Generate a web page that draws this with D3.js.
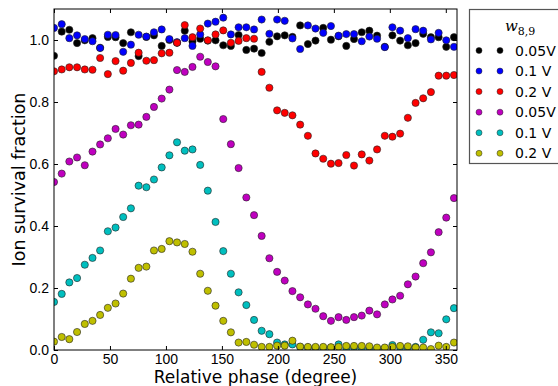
<!DOCTYPE html>
<html>
<head>
<meta charset="utf-8">
<script src="https://cdn.jsdelivr.net/npm/d3@7/dist/d3.min.js"></script>
<style>
  body { margin: 0; background: #fff; }
  svg { display: block; font-family: "DejaVu Sans", sans-serif; }
  .tick text { font-size: 14px; fill: #000; }
  .tick line { stroke: #000; }
</style>
</head>
<body>
<div id="chart"></div>
<script>
// relative phase (degree)
const phase = [0, 6.9, 13.7, 20.6, 27.5, 34.4, 41.2, 48.1, 55.0, 61.8, 68.7, 75.6, 82.5, 89.3,
  96.2, 103.1, 109.9, 116.8, 123.7, 130.6, 137.4, 144.3, 151.2, 158.0, 164.9, 171.8, 178.7,
  185.5, 192.4, 199.3, 206.1, 213.0, 219.9, 226.8, 233.6, 240.5, 247.4, 254.2, 261.1, 268.0,
  274.9, 281.7, 288.6, 295.5, 302.3, 309.2, 316.1, 323.0, 329.8, 336.7, 343.6, 350.4, 357.3];

const black005 = [0.949, 1.027, 1.033, 0.990, 0.999, 1.006, 0.975, 1.010, 1.009, 0.990, 1.025, 0.948,
  1.010, 1.015, 0.981, 1.000, 0.991, 1.030, 0.995, 1.004, 0.998, 0.999, 0.983, 0.981, 1.016, 0.968,
  0.972, 0.958, 0.994, 1.012, 1.015, 1.010, 1.047, 0.987, 0.998, 1.039, 1.001, 1.012, 0.981, 1.003,
  1.025, 1.030, 1.014, 0.978, 1.015, 0.998, 0.983, 0.990, 1.020, 1.009, 1.009, 0.978, 1.009];

const blue01 = [1.039, 1.051, 1.006, 1.015, 1.003, 0.996, 0.974, 1.017, 1.016, 0.962, 0.985, 1.017,
  1.011, 1.025, 1.034, 1.003, 0.993, 1.006, 0.981, 1.018, 1.053, 1.059, 1.072, 1.018, 1.041, 1.041,
  1.034, 1.066, 1.020, 1.066, 1.062, 1.005, 0.971, 1.047, 1.037, 1.023, 1.045, 1.014, 1.019, 1.019,
  0.996, 1.011, 1.004, 0.977, 1.041, 1.030, 1.006, 1.035, 1.030, 1.002, 1.023, 0.999, 0.978];

const red02 = [0.899, 0.905, 0.912, 0.912, 0.905, 0.904, 0.942, 0.890, 0.932, 0.901, 0.926, 0.959,
  0.933, 0.935, 0.957, 0.959, 0.991, 1.048, 1.009, 1.037, 0.999, 1.018, 1.031, 0.991, 0.997, 1.006,
  1.004, 0.897, 0.846, 0.773, 0.765, 0.757, 0.727, 0.691, 0.634, 0.617, 0.601, 0.603, 0.629, 0.595,
  0.631, 0.611, 0.647, 0.691, 0.688, 0.698, 0.749, 0.797, 0.812, 0.832, 0.885, 0.885, 0.887];

const magenta005 = [0.542, 0.569, 0.608, 0.621, 0.596, 0.640, 0.663, 0.683, 0.713, 0.695, 0.725, 0.727,
  0.752, 0.784, 0.811, 0.840, 0.903, 0.897, 0.913, 0.946, 0.929, 0.915, 0.745, 0.664, 0.587, 0.492,
  0.435, 0.368, 0.296, 0.252, 0.224, 0.190, 0.170, 0.147, 0.133, 0.109, 0.094, 0.106, 0.097, 0.106,
  0.111, 0.127, 0.115, 0.147, 0.163, 0.175, 0.212, 0.237, 0.280, 0.315, 0.380, 0.427, 0.490];

const cyan01 = [0.155, 0.181, 0.218, 0.232, 0.275, 0.297, 0.321, 0.383, 0.395, 0.429, 0.457, 0.530,
  0.525, 0.550, 0.589, 0.628, 0.670, 0.643, 0.647, 0.597, 0.514, 0.413, 0.319, 0.246, 0.186, 0.145,
  0.097, 0.062, 0.051, 0.024, 0.018, 0.018, 0.010, 0.008, 0.006, 0.005, 0.008, 0.018, 0.006, 0.008,
  0.005, 0.007, 0.005, 0.006, 0.016, 0.008, 0.006, 0.010, 0.033, 0.057, 0.054, 0.099, 0.135];

const yellow02 = [0.027, 0.042, 0.035, 0.058, 0.084, 0.094, 0.113, 0.136, 0.150, 0.182, 0.230, 0.265,
  0.269, 0.321, 0.326, 0.351, 0.347, 0.342, 0.317, 0.246, 0.191, 0.143, 0.094, 0.057, 0.024, 0.026,
  0.017, 0.010, 0.010, 0.014, 0.014, 0.030, 0.011, 0.010, 0.010, 0.010, 0.009, 0.010, 0.013, 0.013,
  0.013, 0.012, 0.008, 0.008, 0.010, 0.013, 0.012, 0.008, 0.008, 0.003, 0.014, 0.010, 0.024];

const seriesLabels = ['0.05V', '0.1 V', '0.2 V', '0.05V', '0.1 V', '0.2 V'];
const seriesValues = [black005, blue01, red02, magenta005, cyan01, yellow02];
const seriesColors = ['#000000', '#0000ff', '#ff0000', '#bf00bf', '#00bfbf', '#bfbf00'];

const xTicks = [0, 50, 100, 150, 200, 250, 300, 350];
const yTicks = [0.0, 0.2, 0.4, 0.6, 0.8, 1.0];

const width = 558, height = 386;
const margin = { top: 9, right: 101, bottom: 36, left: 54 };

const svg = d3.select('#chart').append('svg')
  .attr('width', width)
  .attr('height', height);

const x = d3.scaleLinear().domain([0, 360]).range([margin.left, width - margin.right]);
const y = d3.scaleLinear().domain([0, 1.1]).range([height - margin.bottom, margin.top]);

svg.append('clipPath').attr('id', 'plot-clip')
  .append('rect')
  .attr('x', x(0)).attr('y', y(1.1))
  .attr('width', x(360) - x(0)).attr('height', y(0) - y(1.1));

// points, drawn in series order so later ones sit on top
const plot = svg.append('g').attr('clip-path', 'url(#plot-clip)');
seriesValues.forEach((vals, s) => {
  plot.append('g').selectAll('circle')
    .data(vals)
    .enter().append('circle')
    .attr('cx', (d, i) => x(phase[i]))
    .attr('cy', d => y(d))
    .attr('r', 3.6)
    .attr('fill', seriesColors[s])
    .attr('stroke', '#222')
    .attr('stroke-width', 0.6);
});

// axes with inward ticks on all four sides
const fmtY = d3.format('.1f');
svg.append('g')
  .attr('transform', `translate(0,${y(0)})`)
  .call(d3.axisBottom(x).tickValues(xTicks).tickSize(-4).tickPadding(4).tickFormat(d3.format('d')))
  .call(g => g.select('.domain').remove());
svg.append('g')
  .attr('transform', `translate(0,${y(1.1)})`)
  .call(d3.axisTop(x).tickValues(xTicks).tickSize(-4).tickFormat(''))
  .call(g => g.select('.domain').remove());
svg.append('g')
  .attr('transform', `translate(${x(0)},0)`)
  .call(d3.axisLeft(y).tickValues(yTicks).tickSize(-4).tickPadding(5).tickFormat(fmtY))
  .call(g => g.select('.domain').remove());
svg.append('g')
  .attr('transform', `translate(${x(360)},0)`)
  .call(d3.axisRight(y).tickValues(yTicks).tickSize(-4).tickFormat(''))
  .call(g => g.select('.domain').remove());

svg.append('rect')
  .attr('x', x(0)).attr('y', y(1.1))
  .attr('width', x(360) - x(0)).attr('height', y(0) - y(1.1))
  .attr('fill', 'none')
  .attr('stroke', '#000')
  .attr('stroke-width', 1);

// axis labels
svg.append('text')
  .attr('x', (x(0) + x(360)) / 2)
  .attr('y', 383)
  .attr('text-anchor', 'middle')
  .style('font-size', '17px')
  .text('Relative phase (degree)');

svg.append('text')
  .attr('transform', `translate(25,${(y(0) + y(1.1)) / 2}) rotate(-90)`)
  .attr('text-anchor', 'middle')
  .style('font-size', '17.5px')
  .text('Ion survival fraction');

// legend
const legend = svg.append('g');
legend.append('rect')
  .attr('x', 469.5).attr('y', 9.5)
  .attr('width', 120).attr('height', 154)
  .attr('fill', '#fff')
  .attr('stroke', '#555')
  .attr('stroke-width', 1.2);

const title = legend.append('text')
  .attr('x', 505).attr('y', 31)
  .style('font-family', '"DejaVu Serif", serif')
  .style('font-size', '15px');
title.append('tspan').style('font-style', 'italic').text('w');
title.append('tspan').attr('dy', 4).style('font-size', '11px').text('8,9');

const rowY = d3.scaleLinear().domain([0, 5]).range([50.5, 153.3]);
seriesLabels.forEach((lab, s) => {
  [479, 500].forEach(cx => {
    legend.append('circle')
      .attr('cx', cx).attr('cy', rowY(s))
      .attr('r', 3)
      .attr('fill', seriesColors[s])
      .attr('stroke', '#222')
      .attr('stroke-width', 0.5);
  });
  legend.append('text')
    .attr('x', 515).attr('y', rowY(s) + 5)
    .style('font-size', '14px')
    .text(lab);
});
</script>
</body>
</html>
